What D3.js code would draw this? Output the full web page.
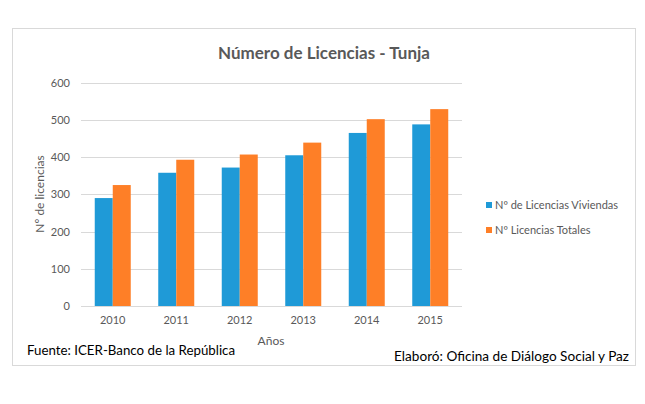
<!DOCTYPE html>
<html><head><meta charset="utf-8">
<script src="https://cdn.jsdelivr.net/npm/d3@7"></script>
<style>body{margin:0;background:#fff}svg{display:block}text{font-family:Lato,"Open Sans",sans-serif}</style>
</head><body><svg id="c" width="645" height="404"></svg>
<script>
const years = ["2010","2011","2012","2013","2014","2015"];
const seriesNames = ["Nº de Licencias Viviendas","Nº Licencias Totales"];
const viviendas = [290, 358, 372, 405, 465, 488];
const totales = [325, 393, 407, 439, 502, 529];
const yTicks = [0,100,200,300,400,500,600];
const colors = ["#1f9ad7","#fe7f27"];

const svg = d3.select("#c");
const grey = "#595959";
svg.append("rect").attr("x",12.5).attr("y",28.5).attr("width",623).attr("height",337)
  .attr("fill","#fff").attr("stroke","#d9d9d9").attr("stroke-width",1);

const x = d3.scaleBand().domain(years).range([81,462]).padding(0);
const xs = d3.scaleBand().domain(seriesNames).range([0,x.bandwidth()]).paddingInner(0).paddingOuter(0.764);
const y = d3.scaleLinear().domain([0,600]).range([306,82.7]);

// gridlines
svg.append("g").selectAll("line").data(yTicks).join("line")
  .attr("x1",81).attr("x2",462).attr("y1",d=>Math.round(y(d))+0.5).attr("y2",d=>Math.round(y(d))+0.5)
  .attr("stroke","#d9d9d9").attr("stroke-width",1);

// y axis labels
const yAxis = d3.axisLeft(y).tickValues(yTicks).tickSize(0).tickPadding(0);
const gy = svg.append("g").attr("transform","translate(70,0)").call(yAxis);
gy.select(".domain").remove();
gy.selectAll("text").attr("fill",grey).style("font-size","11px").style("font-family","Lato, sans-serif");

// x axis labels
const xAxis = d3.axisBottom(x).tickSize(0).tickPadding(0);
const gx = svg.append("g").attr("transform","translate(0,316)").call(xAxis);
gx.select(".domain").remove();
gx.selectAll("text").attr("fill",grey).style("font-size","11px").style("font-family","Lato, sans-serif");

// bars
const data = years.map((yr,i)=>({year:yr, vals:[{s:seriesNames[0],v:viviendas[i],c:colors[0]},{s:seriesNames[1],v:totales[i],c:colors[1]}]}));
svg.append("g").selectAll("g").data(data).join("g")
  .attr("transform",d=>`translate(${x(d.year)},0)`)
  .selectAll("rect").data(d=>d.vals).join("rect")
  .attr("x",d=>xs(d.s)).attr("width",xs.bandwidth())
  .attr("y",d=>y(d.v)).attr("height",d=>y(0)-y(d.v)).attr("fill",d=>d.c);

// title
svg.append("text").attr("x",324).attr("y",59).attr("text-anchor","middle")
  .attr("fill",grey).style("font-size","17px").style("font-weight","bold").text("Número de Licencias - Tunja");

// axis titles
svg.append("text").attr("transform","translate(44,194) rotate(-90)").attr("text-anchor","middle")
  .attr("fill",grey).style("font-size","12px").text("Nº de licencias");
svg.append("text").attr("x",271).attr("y",345).attr("text-anchor","middle")
  .attr("fill",grey).style("font-size","12px").text("Años");

// legend
const lg = svg.append("g").selectAll("g").data(seriesNames).join("g")
  .attr("transform",(d,i)=>`translate(486,${205+i*25})`);
lg.append("rect").attr("x",0).attr("y",-3).attr("width",6).attr("height",6).attr("fill",(d,i)=>colors[i]);
lg.append("text").attr("x",9).attr("y",4).attr("fill",grey).style("font-size","11px").text(d=>d);

// footnotes
svg.append("text").attr("x",27).attr("y",355).attr("fill","#000").style("font-size","13.3px").text("Fuente: ICER-Banco de la República");
svg.append("text").attr("x",629).attr("y",361).attr("text-anchor","end").attr("fill","#000").style("font-size","13.6px").text("Elaboró: Oficina de Diálogo Social y Paz");
</script></body></html>
